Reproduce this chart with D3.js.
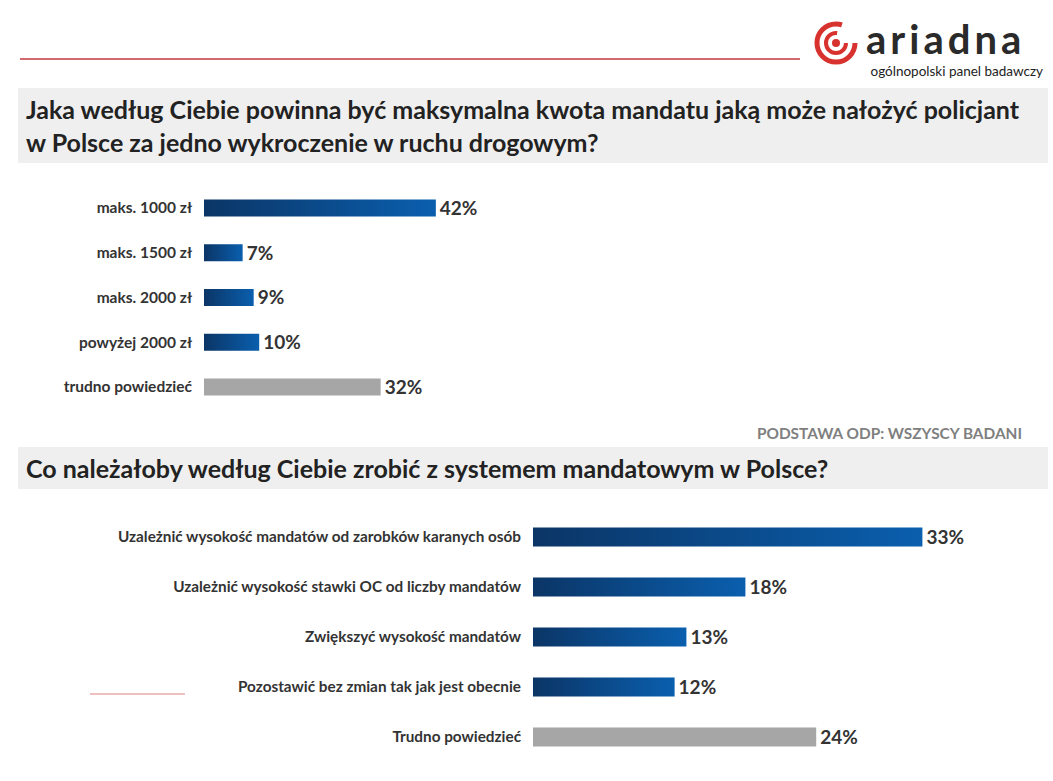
<!DOCTYPE html>
<html><head><meta charset="utf-8">
<script src="https://cdn.jsdelivr.net/npm/d3@7"></script>
<style>body{margin:0;background:#fff}svg{font-family:Lato,"Open Sans",sans-serif}</style>
</head><body>
<svg id="c" width="1053" height="781"></svg>
<script>
const cats1 = ['maks. 1000 zł', 'maks. 1500 zł', 'maks. 2000 zł', 'powyżej 2000 zł', 'trudno powiedzieć'];
const vals1 = [42, 7, 9, 10, 32];
const cats2 = ['Uzależnić wysokość mandatów od zarobków karanych osób', 'Uzależnić wysokość stawki OC od liczby mandatów', 'Zwiększyć wysokość mandatów', 'Pozostawić bez zmian tak jak jest obecnie', 'Trudno powiedzieć'];
const vals2 = [33, 18, 13, 12, 24];
const grayCat = [false, false, false, false, true];

const svg = d3.select('#c');
const defs = svg.append('defs');
const grad = defs.append('linearGradient').attr('id', 'blue').attr('x1', 0).attr('x2', 1).attr('y1', 0).attr('y2', 0);
grad.append('stop').attr('offset', 0).attr('stop-color', '#0b3566');
grad.append('stop').attr('offset', 1).attr('stop-color', '#0a5fae');

// header
svg.append('line').attr('x1', 20).attr('x2', 800).attr('y1', 59).attr('y2', 59).attr('stroke', '#c0393b').attr('stroke-width', 1.5);
const logo = svg.append('g').attr('transform', 'translate(836,43)');
logo.append('circle').attr('r', 19).attr('fill', 'none').attr('stroke', '#d8322f').attr('stroke-width', 5).attr('stroke-dasharray', '95 25');
logo.append('circle').attr('r', 10).attr('fill', 'none').attr('stroke', '#d8322f').attr('stroke-width', 4).attr('stroke-dasharray', '48 15');
logo.append('circle').attr('r', 4).attr('fill', '#d8322f');
svg.append('text').attr('x', 866).attr('y', 54).attr('font-size', 40).attr('font-weight', 700).attr('fill', '#2a2a2a').attr('letter-spacing', 4).text('ariadna');
svg.append('text').attr('x', 1043).attr('y', 76).attr('text-anchor', 'end').attr('font-size', 13.5).attr('fill', '#222').text('ogólnopolski panel badawczy');

// title bands
svg.append('rect').attr('x', 18).attr('y', 88).attr('width', 1030).attr('height', 75).attr('fill', '#efefef');
svg.append('text').attr('x', 26).attr('y', 119).attr('font-size', 25).attr('font-weight', 700).attr('fill', '#222')
  .text('Jaka według Ciebie powinna być maksymalna kwota mandatu jaką może nałożyć policjant');
svg.append('text').attr('x', 26).attr('y', 152).attr('font-size', 25).attr('font-weight', 700).attr('fill', '#222')
  .text('w Polsce za jedno wykroczenie w ruchu drogowym?');
svg.append('text').attr('x', 1022).attr('y', 439).attr('text-anchor', 'end').attr('font-size', 15.4).attr('font-weight', 700).attr('fill', '#7f7f7f').text('PODSTAWA ODP: WSZYSCY BADANI');
svg.append('rect').attr('x', 18).attr('y', 447).attr('width', 1030).attr('height', 42).attr('fill', '#efefef');
svg.append('text').attr('x', 26).attr('y', 478).attr('font-size', 25).attr('font-weight', 700).attr('fill', '#222')
  .text('Co należałoby według Ciebie zrobić z systemem mandatowym w Polsce?');
svg.append('line').attr('x1', 90).attr('x2', 185).attr('y1', 694).attr('y2', 694).attr('stroke', '#e08080').attr('stroke-width', 1);

function drawChart(cats, vals, x0, pxPerPct, yTop, yBot, barH, labelSize, valSize) {
  const x = d3.scaleLinear().domain([0, 1]).range([x0, x0 + pxPerPct]);
  const y = d3.scalePoint().domain(cats).range([yTop, yBot]);
  const g = svg.append('g');
  const rows = g.selectAll('g').data(cats).join('g').attr('transform', d => `translate(0,${y(d)})`);
  rows.append('rect').attr('x', x0).attr('y', -barH / 2).attr('height', barH)
    .attr('width', (d, i) => x(vals[i]) - x0)
    .attr('fill', (d, i) => grayCat[i] ? '#a6a6a6' : 'url(#blue)');
  rows.append('text').attr('x', x0 - 12).attr('dy', '0.35em').attr('text-anchor', 'end')
    .attr('font-size', labelSize).attr('font-weight', 700).attr('fill', '#333').text(d => d);
  rows.append('text').attr('x', (d, i) => x(vals[i]) + 4).attr('dy', '0.36em')
    .attr('font-size', valSize).attr('font-weight', 700).attr('fill', '#333').text((d, i) => vals[i] + '%');
}
drawChart(cats1, vals1, 204, 5.52, 208, 387, 17, 15.5, 19);
drawChart(cats2, vals2, 533, 11.8, 537, 737, 19, 15.3, 19);
</script>
</body></html>
